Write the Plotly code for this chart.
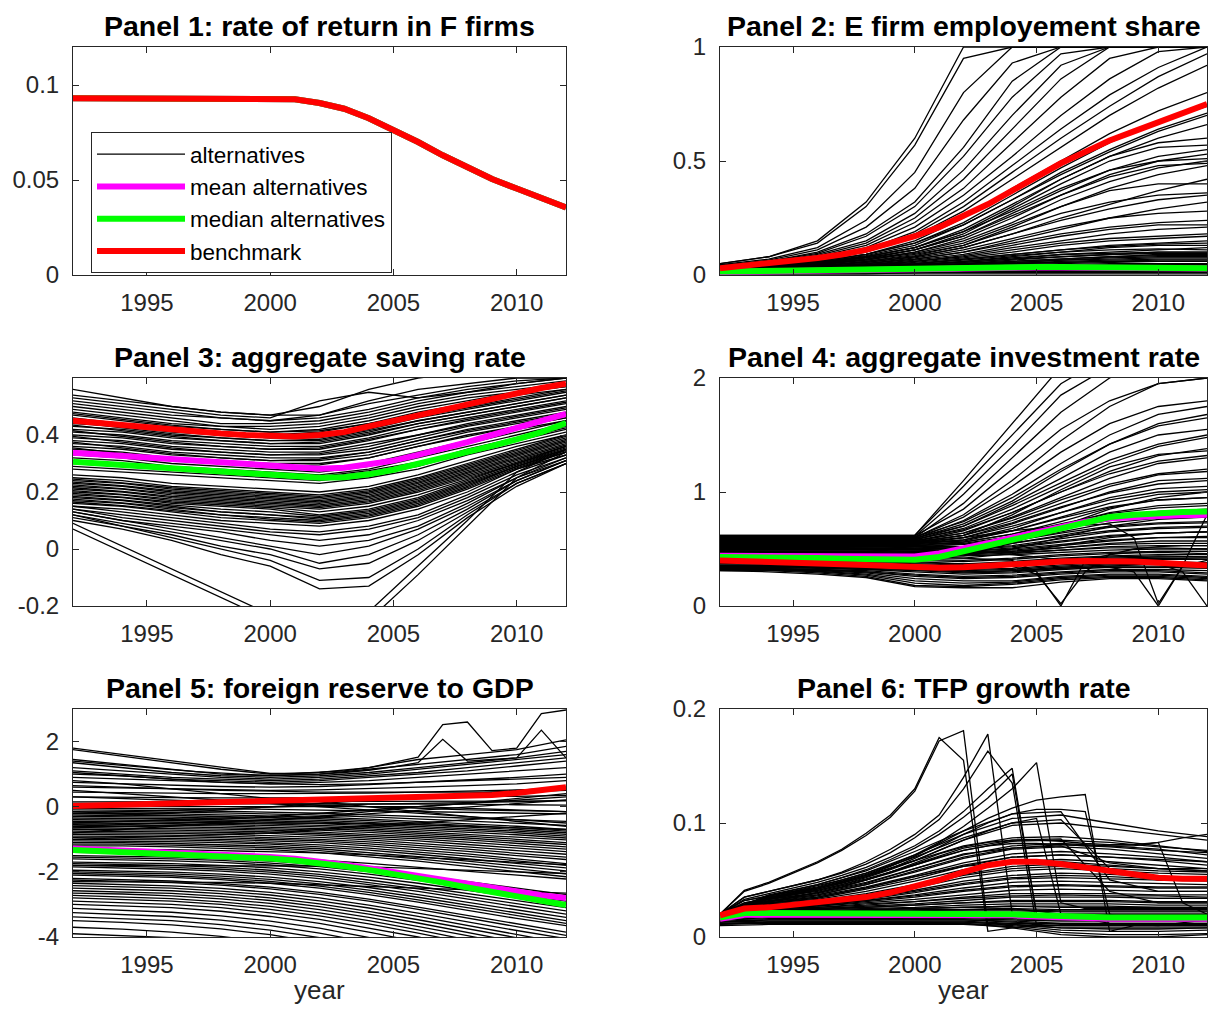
import plotly.graph_objects as go

FONT = "Liberation Sans, Arial, Helvetica, sans-serif"
PAGE_W, PAGE_H = 1216, 1017
OFF = 8                                   # default body margin of the html page
W, H = PAGE_W - 2 * OFF, PAGE_H - 2 * OFF  # figure fits in the window without scrollbars

YEARS = list(range(1992, 2013))          # yearly series
YEARS_ALT = list(range(1992, 2013, 2))   # alternatives, read every other year

TITLES = ["Panel 1: rate of return in F firms", "Panel 2: E firm employement share",
          "Panel 3: aggregate saving rate", "Panel 4: aggregate investment rate",
          "Panel 5: foreign reserve to GDP", "Panel 6: TFP growth rate"]
X_TICKS = [1995, 2000, 2005, 2010]
Y_TICKS = [[0, 0.05, 0.1], [0, 0.5, 1], [-0.2, 0, 0.2, 0.4], [0, 1, 2], [-4, -2, 0, 2], [0, 0.1, 0.2]]
Y_TICKTEXT = [["0", "0.05", "0.1"], ["0", "0.5", "1"], ["-0.2", "0", "0.2", "0.4"],
              ["0", "1", "2"], ["-4", "-2", "0", "2"], ["0", "0.1", "0.2"]]
Y_RANGES = [[0, 0.12], [0, 1], [-0.2, 0.6], [0, 2], [-4, 3], [0, 0.2]]
LEGEND_NAMES = ["alternatives", "mean alternatives", "median alternatives", "benchmark"]

# ---------------- Panel 1 ----------------
P1_BENCH = [.093, .093, .093, .093, .093, .093, .093, .093, .093, .0925, .0905, .0875, .0825,
            .0765, .070, .063, .0565, .0505, .0455, .0405, .0355]
P1_MEAN = P1_BENCH
P1_MEDIAN = P1_BENCH
P1_ALT = [[.093, .093, .093, .093, .093, .0905, .0825, .070, .0565, .0455, .0355]]
P1_ALT_Y = []

# ---------------- Panel 2 ----------------
P2_BENCH = [.03, .04, .05, .06, .075, .09, .11, .14, .17, .21, .26, .31, .37, .43, .49, .54,
            .59, .63, .67, .71, .75]
P2_MEAN = [.013, .015, .017, .019, .021, .023, .025, .027, .029, .030, .031, .032, .033, .033,
           .033, .032, .032, .031, .030, .029, .028]
P2_MEDIAN = [.015, .017, .019, .021, .023, .025, .027, .029, .031, .032, .033, .034, .035, .035,
             .035, .034, .034, .033, .032, .031, .030]
P2_ALT = [
    [.05, .08, .15, .32, .60, 1, 1, 1, 1, 1, 1],
    [.05, .08, .14, .30, .57, .95, 1, 1, 1, 1, 1],
    [.045, .07, .12, .24, .45, .80, 1, 1, 1, 1, 1],
    [.04, .065, .11, .21, .38, .68, .93, 1, 1, 1, 1],
    [.04, .06, .10, .18, .32, .56, .85, 1, 1, 1, 1],
    [.04, .06, .095, .17, .30, .52, .78, .97, 1, 1, 1],
    [.04, .055, .09, .15, .27, .46, .70, .92, 1, 1, 1],
    [.035, .055, .085, .14, .25, .42, .64, .86, 1, 1, 1],
    [.035, .05, .08, .13, .23, .38, .58, .78, .95, 1, 1],
    [.035, .05, .075, .12, .21, .35, .52, .70, .86, .98, 1],
    [.035, .05, .07, .11, .19, .32, .48, .64, .79, .91, 1],
    [.03, .045, .07, .11, .18, .30, .45, .60, .74, .87, .97],
    [.03, .045, .065, .10, .17, .28, .42, .56, .70, .82, .92],
    [.03, .04, .06, .09, .15, .25, .38, .50, .62, .72, .80],
    [.03, .04, .06, .09, .14, .23, .35, .47, .58, .67, .74],
    [.03, .04, .055, .085, .13, .22, .33, .44, .54, .63, .70],
    [.03, .04, .055, .08, .12, .20, .31, .42, .52, .60, .66],
    [.025, .035, .05, .08, .12, .19, .30, .42, .52, .58, .60],
    [.025, .035, .05, .075, .11, .18, .29, .40, .50, .56, .57],
    [.025, .035, .05, .07, .11, .17, .27, .37, .46, .52, .55],
    [.025, .035, .045, .07, .10, .16, .25, .35, .44, .50, .53],
    [.025, .03, .045, .065, .10, .15, .23, .33, .41, .47, .50],
    [.025, .03, .045, .065, .095, .14, .22, .30, .37, .40, .40],
    [.025, .03, .04, .06, .09, .13, .21, .30, .38, .44, .48],
    [.02, .03, .04, .06, .085, .13, .20, .27, .32, .35, .36],
    [.02, .03, .04, .055, .08, .12, .18, .24, .29, .33, .35],
    [.02, .03, .04, .055, .08, .12, .18, .25, .31, .37, .42],
    [.02, .025, .035, .05, .075, .11, .16, .21, .25, .27, .28],
    [.02, .025, .035, .05, .07, .10, .15, .20, .25, .29, .32],
    [.02, .025, .035, .05, .07, .10, .14, .18, .21, .23, .24],
    [.02, .025, .035, .045, .065, .09, .13, .17, .20, .22, .22],
    [.02, .025, .03, .045, .06, .085, .12, .15, .18, .20, .21],
    [.02, .025, .03, .04, .06, .08, .11, .14, .16, .17, .18],
    [.02, .025, .03, .04, .055, .075, .10, .13, .15, .16, .17],
    [.02, .025, .03, .04, .05, .07, .09, .11, .13, .14, .15],
    [.02, .02, .03, .035, .045, .06, .08, .10, .12, .13, .13],
    [.02, .02, .025, .035, .045, .055, .07, .09, .10, .11, .12],
    [.015, .02, .025, .03, .04, .05, .065, .08, .09, .10, .10],
    [.015, .02, .025, .03, .04, .05, .06, .07, .08, .09, .09],
    [.015, .02, .025, .03, .035, .045, .055, .065, .075, .08, .08],
    [.015, .02, .02, .025, .035, .04, .05, .06, .065, .07, .07],
    [.015, .015, .02, .025, .03, .035, .045, .05, .055, .06, .06],
    [.01, .015, .02, .02, .025, .03, .04, .045, .05, .05, .05],
    [.01, .015, .015, .02, .025, .03, .035, .04, .04, .04, .04],
    [.01, .01, .015, .02, .02, .025, .03, .03, .03, .03, .03],
    [.01, .01, .01, .015, .015, .02, .02, .02, .02, .02, .02],
    [.005, .01, .01, .01, .01, .015, .015, .015, .015, .015, .015],
    [.005, .005, .005, .005, .01, .01, .01, .01, .01, .01, .01],
    [.005, .005, .005, .005, .005, .005, .005, .005, .005, .005, .005],
    [.01, .015, .02, .025, .03, .04, .05, .055, .06, .065, .065],
    [.02, .025, .03, .04, .05, .065, .085, .10, .11, .115, .11],
    [.015, .02, .025, .035, .045, .06, .075, .09, .095, .10, .10],
    [.01, .015, .02, .03, .04, .05, .06, .07, .08, .085, .085],
    [.02, .025, .03, .035, .045, .055, .07, .08, .09, .095, .095],
    [.015, .02, .025, .03, .035, .045, .05, .055, .06, .06, .06],
    [.01, .01, .015, .015, .02, .02, .025, .025, .025, .025, .025],
    [.01, .015, .015, .02, .025, .035, .04, .045, .045, .045, .045],
    [.015, .02, .025, .03, .04, .045, .055, .065, .07, .075, .075],
    [.02, .025, .03, .04, .05, .07, .09, .11, .125, .135, .14],
    [.03, .04, .055, .08, .12, .19, .28, .38, .46, .50, .51],
    [.025, .035, .05, .075, .11, .17, .26, .35, .43, .48, .49],
    [.03, .045, .06, .09, .14, .22, .33, .45, .55, .64, .71],
]
P2_ALT_Y = []

# ---------------- Panel 3 ----------------
P3_BENCH = [.45, .442, .435, .428, .42, .413, .405, .40, .396, .395, .40, .41, .43, .45, .47,
            .49, .51, .53, .55, .565, .58]
P3_MEAN = [.338, .332, .326, .320, .314, .308, .302, .296, .290, .285, .282, .285, .295, .31,
           .33, .35, .375, .40, .425, .45, .474]
P3_MEDIAN = [.306, .300, .294, .288, .282, .276, .270, .264, .258, .253, .250, .252, .262, .278,
             .298, .318, .340, .362, .385, .41, .442]
P3_ALT = [
    [.56, .53, .50, .48, .47, .47, .52, .56, .58, .60, .60],
    [.54, .52, .50, .48, .47, .50, .56, .60, .62, .62, .62],
    [.53, .51, .49, .47, .46, .52, .55, .53, .55, .58, .60],
    [.52, .50, .48, .46, .45, .47, .51, .54, .57, .59, .60],
    [.51, .49, .47, .46, .45, .46, .49, .53, .56, .58, .60],
    [.50, .48, .46, .44, .44, .45, .48, .52, .55, .57, .59],
    [.49, .47, .45, .43, .43, .44, .47, .51, .54, .56, .58],
    [.48, .46, .44, .43, .42, .43, .46, .50, .53, .55, .57],
    [.47, .45, .43, .42, .41, .42, .45, .49, .52, .55, .57],
    [.46, .44, .42, .41, .40, .41, .44, .47, .50, .53, .56],
    [.44, .43, .41, .40, .39, .39, .42, .46, .49, .52, .55],
    [.43, .42, .40, .39, .38, .38, .41, .45, .48, .51, .54],
    [.42, .41, .39, .38, .37, .37, .40, .44, .47, .50, .53],
    [.41, .40, .38, .37, .36, .36, .39, .43, .46, .49, .52],
    [.40, .39, .37, .36, .35, .35, .38, .42, .45, .48, .51],
    [.39, .38, .36, .35, .34, .34, .37, .40, .44, .47, .50],
    [.38, .37, .35, .34, .33, .33, .35, .39, .43, .46, .49],
    [.37, .36, .34, .33, .32, .32, .34, .38, .42, .45, .48],
    [.36, .35, .33, .32, .31, .31, .33, .37, .41, .44, .47],
    [.35, .34, .32, .31, .30, .30, .32, .36, .40, .43, .46],
    [.33, .32, .30, .29, .28, .27, .29, .33, .37, .41, .45],
    [.32, .31, .29, .28, .27, .26, .28, .32, .36, .40, .44],
    [.30, .29, .28, .27, .26, .25, .27, .30, .35, .39, .43],
    [.29, .28, .27, .26, .25, .24, .26, .29, .34, .38, .42],
    [.28, .27, .26, .25, .24, .23, .25, .28, .33, .37, .41],
    [.25, .24, .22, .21, .20, .19, .21, .25, .30, .35, .40],
    [.24, .23, .21, .20, .19, .18, .20, .24, .29, .34, .39],
    [.23, .22, .20, .19, .18, .17, .19, .23, .28, .33, .38],
    [.22, .21, .19, .18, .17, .16, .18, .22, .27, .32, .37],
    [.21, .20, .18, .17, .16, .15, .17, .21, .26, .31, .36],
    [.20, .19, .17, .16, .15, .14, .16, .20, .25, .30, .36],
    [.19, .18, .16, .15, .14, .12, .14, .18, .24, .30, .35],
    [.18, .17, .15, .13, .12, .11, .13, .17, .23, .29, .35],
    [.17, .16, .14, .12, .11, .10, .12, .16, .22, .29, .34],
    [.16, .15, .13, .11, .10, .09, .11, .15, .21, .28, .34],
    [.15, .14, .12, .10, .09, .08, .10, .14, .20, .28, .33],
    [.15, .13, .11, .09, .07, .06, .08, .12, .19, .27, .33],
    [.14, .12, .10, .08, .06, .05, .07, .11, .18, .26, .32],
    [.14, .11, .09, .07, .05, .03, .05, .10, .17, .25, .32],
    [.13, .10, .08, .06, .03, .01, .03, .08, .16, .25, .31],
    [.13, .10, .07, .04, .01, -.02, .01, .07, .15, .24, .31],
    [.12, .09, .06, .03, 0, -.05, -.02, .05, .14, .24, .31],
    [.12, .08, .05, .01, -.02, -.07, -.05, .03, .13, .23, .30],
    [.11, .08, .04, 0, -.04, -.11, -.10, 0, .12, .23, .30],
    [.10, .07, .03, -.02, -.06, -.14, -.13, -.02, .11, .22, .30],
    [.09, .01, -.07, -.15, -.23, -.30, -.22, -.06, .10, .27, .35],
    [.07, -.01, -.09, -.17, -.25, -.32, -.25, -.09, .08, .25, .34],
    [.26, .25, .23, .22, .21, .20, .22, .26, .31, .36, .40],
    [.34, .33, .31, .30, .29, .28, .30, .34, .38, .42, .45],
    [.475, .455, .435, .42, .41, .415, .44, .48, .51, .54, .56],
    [.455, .435, .415, .40, .39, .40, .43, .465, .495, .525, .555],
    [.445, .425, .405, .39, .38, .385, .415, .45, .48, .51, .54],
    [.435, .415, .395, .38, .37, .375, .405, .44, .47, .50, .53],
    [.415, .395, .375, .36, .35, .355, .385, .42, .455, .485, .515],
    [.395, .375, .355, .34, .33, .335, .36, .40, .435, .465, .495],
    [.375, .355, .335, .32, .31, .315, .34, .38, .415, .445, .475],
    [.355, .335, .315, .30, .29, .295, .32, .36, .395, .43, .46],
    [.245, .232, .215, .205, .195, .185, .205, .245, .295, .345, .395],
    [.235, .222, .205, .195, .185, .175, .195, .235, .285, .335, .385],
    [.225, .212, .195, .185, .175, .165, .185, .225, .275, .325, .375],
    [.215, .202, .185, .175, .165, .155, .175, .215, .265, .315, .365],
    [.205, .192, .175, .165, .155, .145, .165, .205, .255, .305, .36],
    [.195, .182, .165, .155, .145, .13, .15, .19, .245, .30, .355],
    [.185, .172, .155, .14, .13, .115, .135, .175, .235, .295, .35],
    [.175, .162, .145, .13, .12, .105, .125, .165, .225, .29, .345],
    [.165, .152, .135, .12, .105, .095, .115, .155, .215, .285, .34],
    [.31, .30, .285, .275, .265, .255, .275, .305, .345, .385, .425],
]
P3_ALT_Y = []

# ---------------- Panel 4 ----------------
P4_BENCH = [.40, .395, .39, .385, .38, .37, .36, .35, .34, .335, .34, .355, .37, .385, .39,
            .395, .395, .39, .38, .365, .355]
P4_MEAN = [.44, .44, .44, .44, .44, .44, .44, .435, .435, .46, .50, .55, .60, .65, .70, .74,
           .77, .785, .79, .795, .80]
P4_MEDIAN = [.43, .43, .425, .42, .42, .415, .41, .405, .405, .43, .48, .53, .59, .64, .69, .74,
             .78, .80, .815, .825, .83]
P4_ALT = [
    [.62, .62, .62, .62, .62, 1.1, 1.6, 2.1, 2.3, 2.3, 2.3],
    [.62, .62, .62, .62, .62, 1.05, 1.5, 1.95, 2.2, 2.3, 2.3],
    [.61, .61, .61, .61, .61, .98, 1.4, 1.85, 2.1, 2.2, 2.2],
    [.60, .60, .60, .60, .60, .90, 1.3, 1.7, 2.0, 2.2, 2.2],
    [.60, .60, .60, .60, .60, .80, 1.1, 1.45, 1.75, 1.95, 2.0],
    [.60, .60, .60, .60, .60, .78, 1.05, 1.35, 1.6, 1.75, 1.80],
    [.59, .59, .59, .59, .59, .75, .98, 1.25, 1.5, 1.68, 1.75],
    [.59, .59, .59, .59, .59, .72, .92, 1.18, 1.42, 1.60, 1.68],
    [.58, .58, .58, .58, .58, .70, .90, 1.12, 1.35, 1.50, 1.55],
    [.58, .58, .58, .58, .58, .68, .85, 1.05, 1.25, 1.40, 1.48],
    [.57, .57, .57, .57, .57, .66, .82, 1.00, 1.18, 1.32, 1.38],
    [.57, .57, .57, .57, .57, .64, .78, .95, 1.12, 1.25, 1.30],
    [.56, .56, .56, .56, .56, .62, .75, .90, 1.05, 1.15, 1.18],
    [.56, .56, .56, .56, .56, .60, .72, .86, 1.00, 1.10, 1.12],
    [.55, .55, .55, .55, .55, .58, .68, .82, .95, 1.03, 1.05],
    [.55, .55, .55, .55, .55, .57, .66, .78, .90, .98, 1.00],
    [.54, .54, .54, .54, .54, .56, .63, .74, .86, .93, .95],
    [.54, .54, .54, .54, .54, .55, .61, .71, .82, .88, .90],
    [.53, .53, .53, .53, .53, .54, .59, .68, .77, .83, .85],
    [.53, .53, .53, .53, .52, .52, .57, .65, .73, .77, .78],
    [.52, .52, .52, .52, .51, .51, .55, .62, .69, .72, .73],
    [.51, .51, .51, .51, .50, .50, .53, .59, .65, .68, .69],
    [.50, .50, .50, .50, .49, .48, .51, .56, .61, .64, .65],
    [.49, .49, .49, .49, .48, .47, .49, .53, .57, .60, .61],
    [.48, .48, .48, .48, .47, .46, .48, .51, .55, .57, .57],
    [.47, .47, .47, .47, .46, .45, .46, .49, .52, .53, .53],
    [.46, .46, .46, .46, .45, .44, .45, .47, .49, .50, .50],
    [.42, .42, .42, .42, .41, .40, .42, .45, .47, .48, .48],
    [.40, .40, .40, .39, .38, .37, .39, .42, .44, .45, .45],
    [.38, .38, .38, .37, .36, .35, .37, .40, .42, .43, .43],
    [.37, .37, .36, .35, .34, .33, .35, .38, .40, .41, .41],
    [.36, .36, .35, .34, .33, .32, .33, .36, .38, .39, .38],
    [.35, .35, .34, .33, .32, .30, .31, .34, .36, .37, .36],
    [.34, .34, .33, .32, .30, .28, .29, .32, .34, .34, .33],
    [.33, .33, .32, .31, .28, .26, .27, .30, .32, .32, .31],
    [.33, .33, .32, .30, .26, .24, .25, .28, .30, .30, .28],
    [.32, .32, .31, .29, .24, .22, .22, .26, .28, .28, .26],
    [.32, .32, .30, .27, .20, .18, .20, .24, .26, .26, .24],
    [.31, .31, .29, .26, .18, .17, .19, .23, .25, .25, .23],
    [.31, .30, .28, .25, .17, .16, .16, .21, .24, .24, .22],
    [.44, .44, .44, .44, .43, .45, .55, .70, .85, .95, 1.0],
    [.57, .57, .57, .57, .56, .62, .80, 1.02, 1.22, 1.33, 1.36],
    [.615, .615, .615, .615, .615, .85, 1.2, 1.55, 1.8, 1.95, 2.0],
    [.605, .605, .605, .605, .605, .74, .95, 1.2, 1.42, 1.58, 1.65],
    [.595, .595, .595, .595, .595, .70, .88, 1.08, 1.28, 1.42, 1.50],
    [.585, .585, .585, .585, .585, .67, .82, 1.0, 1.16, 1.27, 1.32],
    [.575, .575, .575, .575, .575, .64, .77, .93, 1.07, 1.16, 1.20],
    [.565, .565, .565, .565, .565, .62, .73, .87, .99, 1.07, 1.10],
    [.555, .555, .555, .555, .555, .60, .70, .82, .93, 1.00, 1.02],
    [.545, .545, .545, .545, .545, .58, .66, .77, .87, .93, .95],
    [.535, .535, .535, .535, .53, .56, .63, .72, .81, .86, .88],
    [.525, .525, .525, .525, .52, .54, .60, .68, .75, .79, .80],
    [.515, .515, .515, .515, .51, .52, .57, .64, .70, .73, .74],
    [.505, .505, .505, .505, .50, .51, .55, .61, .66, .69, .70],
    [.495, .495, .495, .495, .49, .49, .52, .57, .62, .64, .65],
    [.485, .485, .485, .485, .48, .48, .50, .54, .58, .60, .60],
    [.475, .475, .475, .475, .47, .47, .48, .51, .54, .55, .55],
    [.465, .465, .465, .465, .46, .46, .47, .49, .51, .51, .50],
    [.41, .41, .41, .41, .40, .39, .41, .44, .46, .47, .46],
    [.39, .39, .39, .38, .37, .36, .38, .41, .43, .44, .43],
    [.375, .375, .37, .36, .35, .34, .36, .39, .41, .42, .41],
    [.355, .355, .345, .335, .32, .31, .32, .35, .37, .38, .37],
    [.345, .345, .335, .325, .31, .29, .30, .33, .35, .35, .34],
    [.325, .325, .315, .30, .27, .25, .26, .29, .31, .31, .29],
    [.315, .315, .305, .28, .22, .20, .21, .25, .27, .27, .25],
    [.44, .44, .44, .44, .43, .44, .50, .60, .70, .76, .78],
    [.43, .43, .43, .43, .42, .42, .46, .53, .60, .64, .65],
]
P4_ALT_Y = [
    [.45, .45, .45, .45, .45, .45, .45, .45, .44, .43, .42, .41, .40, .30, 0, .40, .45, .47, .48, .48, .48],
    [.40, .40, .40, .40, .40, .40, .40, .40, .39, .38, .37, .36, .35, .28, .02, .30, .45, .50, .52, .53, .53],
    [.50, .50, .50, .50, .50, .50, .50, .50, .50, .49, .48, .47, .45, .43, .40, .37, .34, .30, 0, .35, .40],
    [.35, .35, .35, .35, .35, .35, .34, .33, .32, .31, .30, .30, .31, .32, .33, .34, .35, .36, .37, .30, 0],
    [.55, .55, .55, .55, .55, .55, .55, .55, .55, .57, .60, .63, .66, .68, .70, .71, .72, .60, .02, .35, .80],
]

# ---------------- Panel 5 ----------------
P5_BENCH = [.02, .04, .06, .08, .10, .12, .14, .16, .18, .19, .21, .22, .24, .25, .27, .29,
            .32, .36, .42, .50, .60]
P5_MEAN = [-1.28, -1.31, -1.34, -1.37, -1.40, -1.43, -1.46, -1.50, -1.54, -1.60, -1.68, -1.78,
           -1.89, -2.01, -2.13, -2.26, -2.39, -2.51, -2.62, -2.72, -2.80]
P5_MEDIAN = [-1.33, -1.36, -1.39, -1.42, -1.45, -1.48, -1.51, -1.55, -1.59, -1.65, -1.73, -1.83,
             -1.94, -2.06, -2.19, -2.33, -2.48, -2.62, -2.76, -2.90, -3.02]
P5_ALT = [
    [1.75, 1.55, 1.35, 1.15, 1.0, 1.05, 1.2, 1.45, 1.6, 1.75, 2.05],
    [1.45, 1.3, 1.15, 1.0, .95, 1.0, 1.15, 1.3, 1.45, 1.6, 1.85],
    [1.35, 1.2, 1.05, .95, .9, .95, 1.05, 1.2, 1.35, 1.5, 1.7],
    [1.2, 1.1, 1.0, .9, .85, .9, 1.0, 1.15, 1.3, 1.45, 1.6],
    [1.1, 1.0, .9, .85, .8, .85, .95, 1.05, 1.2, 1.35, 1.5],
    [1.0, .95, .85, .8, .75, .8, .9, 1.0, 1.1, 1.25, 1.4],
    [.9, .85, .8, .75, .7, .75, .8, .9, 1.0, 1.1, 1.2],
    [.75, .7, .65, .62, .6, .62, .68, .75, .82, .9, 1.0],
    [.6, .58, .55, .52, .5, .52, .55, .6, .65, .7, .8],
    [.45, .43, .42, .4, .4, .4, .42, .45, .48, .5, .55],
    [.3, .3, .28, .27, .27, .27, .28, .3, .3, .32, .35],
    [.15, .15, .15, .15, .15, .15, .15, .16, .16, .17, .18],
    [0, 0, 0, 0, 0, 0, 0, 0, -.05, -.1, -.15],
    [-.1, -.1, -.12, -.14, -.16, -.2, -.25, -.3, -.35, -.4, -.45],
    [-.2, -.2, -.22, -.25, -.28, -.32, -.38, -.45, -.52, -.6, -.7],
    [-.3, -.3, -.32, -.35, -.38, -.42, -.48, -.55, -.62, -.7, -.8],
    [-.4, -.4, -.42, -.44, -.47, -.52, -.58, -.65, -.72, -.8, -.9],
    [-.5, -.5, -.52, -.54, -.57, -.62, -.68, -.76, -.84, -.93, -1.02],
    [-.6, -.6, -.62, -.64, -.67, -.72, -.79, -.87, -.96, -1.06, -1.16],
    [-.7, -.7, -.72, -.74, -.77, -.83, -.9, -.99, -1.09, -1.2, -1.3],
    [-.8, -.8, -.82, -.84, -.88, -.94, -1.02, -1.12, -1.23, -1.35, -1.46],
    [-.9, -.9, -.92, -.95, -.99, -1.05, -1.14, -1.25, -1.37, -1.5, -1.62],
    [-1.0, -1.0, -1.02, -1.05, -1.1, -1.17, -1.27, -1.39, -1.52, -1.66, -1.8],
    [-1.1, -1.1, -1.13, -1.16, -1.21, -1.29, -1.4, -1.53, -1.67, -1.82, -1.97],
    [-1.2, -1.2, -1.23, -1.27, -1.32, -1.41, -1.53, -1.67, -1.83, -1.99, -2.15],
    [.5, .4, .3, .2, .1, 0, -.1, -.2, -.3, -.4, -.5],
    [.8, .7, .55, .4, .25, .15, 0, -.15, -.3, -.45, -.6],
    [-.5, -.45, -.4, -.35, -.3, -.2, -.1, 0, .1, .2, .3],
    [-.8, -.7, -.6, -.5, -.4, -.3, -.15, 0, .1, .25, .4],
    [-.3, -.25, -.2, -.1, 0, .1, .2, .3, .4, .5, .6],
    [-.2, -.15, -.1, -.05, 0, .05, .08, .1, .12, .15, .2],
    [-.65, -.6, -.55, -.52, -.5, -.5, -.52, -.55, -.6, -.65, -.7],
    [-1.5, -1.52, -1.55, -1.6, -1.67, -1.78, -1.92, -2.1, -2.3, -2.5, -2.7],
    [-1.6, -1.62, -1.66, -1.71, -1.79, -1.91, -2.07, -2.26, -2.47, -2.68, -2.9],
    [-1.75, -1.77, -1.8, -1.86, -1.95, -2.08, -2.25, -2.45, -2.67, -2.9, -3.1],
    [-1.85, -1.88, -1.92, -1.98, -2.07, -2.21, -2.39, -2.6, -2.83, -3.06, -3.3],
    [-2.0, -2.02, -2.06, -2.13, -2.23, -2.37, -2.56, -2.78, -3.02, -3.26, -3.5],
    [-2.1, -2.13, -2.17, -2.24, -2.35, -2.5, -2.7, -2.93, -3.18, -3.43, -3.65],
    [-2.2, -2.23, -2.28, -2.36, -2.47, -2.63, -2.84, -3.08, -3.34, -3.6, -3.85],
    [-2.35, -2.38, -2.43, -2.51, -2.63, -2.8, -3.02, -3.27, -3.54, -3.8, -4.05],
    [-2.5, -2.53, -2.58, -2.67, -2.8, -2.98, -3.21, -3.47, -3.75, -4.02, -4.3],
    [-2.65, -2.68, -2.74, -2.83, -2.97, -3.16, -3.4, -3.67, -3.96, -4.25, -4.5],
    [-2.8, -2.84, -2.9, -3.0, -3.15, -3.35, -3.6, -3.88, -4.18, -4.5, -4.8],
    [-3.0, -3.04, -3.1, -3.21, -3.37, -3.58, -3.85, -4.15, -4.45, -4.8, -5.1],
    [-3.25, -3.3, -3.37, -3.48, -3.65, -3.88, -4.15, -4.45, -4.8, -5.1, -5.4],
    [-3.5, -3.55, -3.63, -3.75, -3.93, -4.17, -4.45, -4.8, -5.1, -5.4, -5.7],
    [-3.7, -3.76, -3.85, -3.98, -4.17, -4.4, -4.7, -5.0, -5.3, -5.6, -5.9],
    [-1.4, -1.42, -1.45, -1.5, -1.56, -1.64, -1.74, -1.86, -1.98, -2.1, -2.22],
    [-1.3, -1.3, -1.32, -1.35, -1.38, -1.42, -1.48, -1.55, -1.62, -1.7, -1.78],
    [-.95, -.95, -.97, -1.0, -1.04, -1.1, -1.2, -1.32, -1.45, -1.6, -1.75],
    [.1, .1, .1, .1, .1, .1, .1, .1, .08, .06, .05],
    [-.05, -.05, -.06, -.07, -.08, -.1, -.12, -.15, -.18, -.2, -.22],
    [-.15, -.15, -.17, -.19, -.22, -.26, -.31, -.37, -.43, -.5, -.57],
    [-.25, -.25, -.27, -.3, -.33, -.37, -.43, -.5, -.57, -.65, -.75],
    [-.35, -.35, -.37, -.4, -.43, -.47, -.53, -.6, -.67, -.75, -.85],
    [-.45, -.45, -.47, -.49, -.52, -.57, -.63, -.7, -.78, -.86, -.96],
    [-.55, -.55, -.57, -.59, -.62, -.67, -.73, -.81, -.9, -1.0, -1.1],
    [-.65, -.65, -.67, -.69, -.72, -.78, -.85, -.93, -1.02, -1.13, -1.23],
    [-.75, -.75, -.77, -.79, -.82, -.88, -.96, -1.05, -1.16, -1.28, -1.38],
    [-.85, -.85, -.87, -.9, -.94, -1.0, -1.08, -1.18, -1.3, -1.43, -1.55],
    [-1.05, -1.05, -1.07, -1.1, -1.15, -1.23, -1.33, -1.46, -1.6, -1.74, -1.88],
    [-1.15, -1.15, -1.18, -1.21, -1.26, -1.35, -1.47, -1.6, -1.75, -1.9, -2.06],
    [-.6, -.55, -.5, -.45, -.4, -.32, -.22, -.1, 0, .1, .2],
    [-1.0, -.95, -.9, -.85, -.8, -.7, -.6, -.5, -.4, -.3, -.2],
    [.3, .25, .2, .15, .1, .05, 0, -.05, -.1, -.12, -.15],
    [.65, .6, .55, .5, .48, .45, .45, .45, .45, .45, .5],
    [1.05, .95, .85, .75, .7, .68, .7, .75, .8, .85, .9],
    [-1.55, -1.57, -1.6, -1.65, -1.73, -1.84, -1.99, -2.18, -2.38, -2.59, -2.8],
    [-1.7, -1.72, -1.75, -1.8, -1.88, -2.0, -2.16, -2.35, -2.57, -2.79, -3.0],
    [-1.8, -1.83, -1.86, -1.92, -2.01, -2.14, -2.32, -2.52, -2.75, -2.98, -3.2],
    [-1.95, -1.97, -2.01, -2.07, -2.16, -2.3, -2.48, -2.7, -2.94, -3.18, -3.4],
    [-2.05, -2.08, -2.12, -2.19, -2.29, -2.44, -2.63, -2.86, -3.1, -3.35, -3.58],
    [-2.25, -2.28, -2.33, -2.41, -2.52, -2.69, -2.9, -3.15, -3.42, -3.68, -3.95],
    [-2.42, -2.45, -2.5, -2.59, -2.71, -2.89, -3.11, -3.37, -3.65, -3.93, -4.2],
    [-2.58, -2.61, -2.66, -2.75, -2.88, -3.07, -3.3, -3.57, -3.86, -4.15, -4.4],
    [-2.72, -2.76, -2.82, -2.92, -3.06, -3.26, -3.5, -3.78, -4.08, -4.4, -4.7],
    [-2.9, -2.94, -3.0, -3.1, -3.26, -3.46, -3.72, -4.0, -4.3, -4.65, -4.95],
    [-3.12, -3.17, -3.24, -3.35, -3.51, -3.73, -4.0, -4.3, -4.6, -4.95, -5.25],
    [-3.38, -3.43, -3.5, -3.62, -3.79, -4.02, -4.3, -4.6, -4.95, -5.25, -5.55],
    [-3.9, -3.95, -4.02, -4.15, -4.35, -4.6, -4.9, -5.2, -5.5, -5.8, -6.1],
    [-1.8, -1.8, -1.8, -1.8, -1.8, -1.82, -1.85, -1.9, -1.95, -2.0, -2.05],
    [-2.3, -2.3, -2.3, -2.32, -2.35, -2.4, -2.45, -2.5, -2.55, -2.6, -2.65],
]
P5_ALT_Y = [
    [1.8, 1.7, 1.6, 1.5, 1.4, 1.3, 1.2, 1.1, 1.02, 1.02, 1.05, 1.1, 1.2, 1.35, 1.52, 2.52, 2.6, 1.72, 1.8, 2.86, 2.97],
    [1.4, 1.33, 1.26, 1.2, 1.14, 1.08, 1.03, .99, .96, .97, 1.0, 1.05, 1.12, 1.22, 1.35, 2.07, 1.4, 1.45, 1.5, 2.35, 1.5],
]

# ---------------- Panel 6 ----------------
P6_BENCH = [.019, .025, .026, .028, .030, .032, .035, .039, .044, .050, .057, .063, .066, .066,
            .064, .061, .057, .054, .052, .051, .051]
P6_MEAN = [.016, .0195, .0195, .0195, .0195, .0195, .0195, .0195, .0195, .0195, .0195, .0195,
           .019, .018, .017, .017, .016, .016, .016, .016, .016]
P6_MEDIAN = [.017, .021, .021, .021, .021, .021, .021, .021, .021, .021, .021, .021, .020, .019,
             .018, .018, .017, .017, .017, .017, .017]
P6_ALT = [
    [.02, .036, .043, .054, .067, .08, .087, .088, .085, .08, .075],
    [.02, .034, .041, .051, .063, .076, .084, .085, .083, .079, .076],
    [.02, .033, .039, .048, .06, .072, .08, .082, .08, .077, .072],
    [.02, .032, .037, .046, .057, .069, .077, .079, .077, .073, .069],
    [.02, .031, .036, .044, .054, .065, .073, .075, .073, .07, .066],
    [.02, .03, .034, .042, .051, .062, .07, .072, .07, .067, .063],
    [.02, .03, .033, .04, .049, .059, .066, .068, .066, .063, .06],
    [.02, .029, .032, .038, .046, .055, .062, .064, .062, .06, .058],
    [.02, .028, .031, .036, .043, .052, .058, .06, .058, .056, .055],
    [.02, .028, .03, .035, .041, .049, .054, .056, .055, .053, .052],
    [.02, .027, .029, .033, .039, .046, .051, .052, .051, .05, .049],
    [.02, .026, .028, .032, .037, .043, .048, .049, .048, .047, .046],
    [.02, .026, .027, .031, .035, .04, .044, .045, .044, .043, .043],
    [.02, .025, .027, .03, .033, .037, .041, .042, .041, .04, .04],
    [.02, .025, .026, .029, .031, .035, .038, .038, .038, .037, .037],
    [.02, .024, .025, .027, .029, .032, .035, .035, .035, .034, .034],
    [.02, .024, .025, .026, .028, .03, .032, .032, .032, .031, .031],
    [.02, .023, .024, .025, .026, .028, .029, .029, .029, .028, .028],
    [.02, .023, .023, .024, .025, .026, .027, .026, .026, .026, .026],
    [.02, .022, .023, .023, .024, .024, .025, .024, .024, .024, .024],
    [.019, .022, .022, .022, .023, .023, .023, .022, .022, .022, .022],
    [.018, .021, .021, .021, .021, .021, .021, .02, .02, .02, .02],
    [.017, .019, .019, .019, .019, .019, .019, .018, .018, .018, .018],
    [.016, .018, .018, .018, .018, .018, .017, .016, .016, .016, .016],
    [.015, .016, .016, .016, .016, .016, .015, .014, .014, .014, .014],
    [.014, .015, .015, .015, .015, .015, .014, .012, .012, .012, .012],
    [.013, .014, .014, .014, .014, .014, .012, .01, .01, .01, .01],
    [.012, .013, .013, .013, .013, .013, .011, .008, .008, .008, .008],
    [.011, .012, .012, .012, .012, .012, .01, .006, .005, .005, .006],
    [.01, .011, .011, .011, .011, .011, .009, .004, .002, .002, .003],
    [.012, .013, .013, .013, .013, .012, .008, .002, 0, 0, .002],
    [.02, .035, .042, .053, .067, .085, .098, .1, .095, .09, .085],
    [.02, .036, .044, .056, .072, .09, .104, .107, .1, .093, .088],
    [.02, .037, .046, .058, .075, .093, .108, .11, .05, .04, .04],
    [.02, .035, .043, .055, .07, .087, .1, .103, .06, .05, .05],
    [.02, .034, .04, .05, .064, .078, .085, .086, .04, .03, .03],
    [.02, .033, .038, .047, .06, .073, .078, .08, .065, .06, .06],
    [.02, .031, .035, .043, .053, .062, .066, .066, .063, .06, .058],
    [.018, .022, .023, .024, .025, .026, .025, .02, .012, .01, .015],
    [.02, .029, .031, .037, .045, .054, .06, .062, .06, .058, .057],
    [.02, .027, .03, .034, .04, .047, .052, .054, .053, .051, .05],
    [.02, .026, .028, .032, .036, .041, .045, .046, .045, .044, .044],
    [.02, .025, .026, .028, .031, .034, .036, .037, .036, .036, .035],
    [.02, .024, .024, .026, .028, .03, .031, .031, .031, .03, .03],
    [.02, .023, .023, .024, .025, .026, .027, .027, .027, .026, .026],
    [.019, .022, .022, .023, .023, .024, .024, .023, .023, .023, .023],
    [.017, .02, .02, .02, .02, .02, .02, .019, .019, .019, .019],
    [.015, .017, .017, .017, .017, .017, .016, .015, .015, .015, .015],
    [.013, .015, .015, .015, .015, .015, .013, .011, .011, .011, .011],
    [.011, .013, .013, .013, .013, .013, .011, .008, .007, .007, .008],
    [.02, .032, .037, .046, .058, .07, .078, .081, .079, .076, .074],
    [.02, .03, .035, .043, .053, .063, .07, .072, .07, .068, .066],
]
P6_ALT_Y = [
    [.02, .041, .048, .057, .066, .077, .091, .107, .13, .175, .155, .005, .008, .01, .01, .01, .01, .01, .01, .01, .01],
    [.02, .04, .047, .056, .065, .076, .089, .105, .128, .172, .181, .01, .012, .012, .012, .012, .012, .012, .012, .012, .012],
    [.02, .035, .04, .045, .05, .057, .066, .077, .09, .107, .14, .178, .02, .015, .015, .015, .015, .015, .015, .015, .015],
    [.02, .035, .04, .045, .05, .056, .064, .074, .087, .103, .13, .163, .135, .01, .01, .01, .01, .01, .01, .01, .01],
    [.02, .033, .038, .043, .048, .054, .061, .07, .08, .093, .11, .13, .148, .02, .02, .02, .02, .02, .02, .02, .02],
    [.02, .032, .036, .04, .045, .05, .056, .063, .072, .083, .097, .113, .13, .153, .03, .025, .025, .025, .025, .025, .025],
    [.02, .032, .036, .041, .046, .052, .059, .068, .078, .09, .105, .122, .143, .02, .018, .018, .018, .018, .018, .018, .018],
    [.02, .03, .034, .038, .043, .048, .054, .062, .071, .082, .093, .104, .113, .12, .123, .125, .005, .01, .01, .01, .01],
    [.02, .03, .034, .038, .042, .047, .053, .06, .069, .079, .09, .1, .108, .112, .112, .11, .02, .015, .015, .015, .015],
    [.02, .028, .031, .035, .039, .044, .05, .057, .065, .073, .079, .083, .085, .085, .084, .082, .081, .081, .083, .087, .09],
    [.02, .028, .031, .035, .039, .044, .05, .056, .063, .07, .076, .08, .082, .082, .081, .08, .08, .08, .083, .03, .02],
    [.02, .029, .033, .037, .041, .046, .052, .059, .067, .076, .085, .093, .1, .104, .02, .015, .015, .015, .015, .015, .015],
]

PANELS = [
    (P1_ALT, P1_ALT_Y, P1_MEAN, P1_MEDIAN, P1_BENCH),
    (P2_ALT, P2_ALT_Y, P2_MEAN, P2_MEDIAN, P2_BENCH),
    (P3_ALT, P3_ALT_Y, P3_MEAN, P3_MEDIAN, P3_BENCH),
    (P4_ALT, P4_ALT_Y, P4_MEAN, P4_MEDIAN, P4_BENCH),
    (P5_ALT, P5_ALT_Y, P5_MEAN, P5_MEDIAN, P5_BENCH),
    (P6_ALT, P6_ALT_Y, P6_MEAN, P6_MEDIAN, P6_BENCH),
]


def stack(series_list, years):
    xs, ys = [], []
    for s in series_list:
        for x, y in zip(years, s):
            xs.append(x)
            ys.append(y)
        xs.append(None)
        ys.append(None)
    return xs, ys


# layout geometry, in page pixels of the 1216x1017 window
COL_PX = [(73, 566), (720, 1207)]
ROW_PX = [(47, 275), (378, 606), (709, 937)]
X_DOM = [[(a - OFF) / W, (b - OFF) / W] for a, b in COL_PX]
Y_DOM = [[1 - (b - OFF) / H, 1 - (a - OFF) / H] for a, b in ROW_PX]

AX_COLOR = "#262626"
fig = go.Figure()
annotations = []
layout_axes = {}

for i, (alt, alt_y, mean, median, bench) in enumerate(PANELS):
    r, c = divmod(i, 2)
    sfx = "" if i == 0 else str(i + 1)
    xref, yref = "x" + sfx, "y" + sfx
    ax1, ay1 = stack(alt, YEARS_ALT)
    ax2, ay2 = stack(alt_y, YEARS)
    first = (i == 0)
    fig.add_trace(go.Scatter(x=ax1 + ax2, y=ay1 + ay2, mode="lines", connectgaps=False,
                             line=dict(color="black", width=1.3), name=LEGEND_NAMES[0],
                             showlegend=first, xaxis=xref, yaxis=yref, hoverinfo="skip"))
    fig.add_trace(go.Scatter(x=YEARS, y=mean, mode="lines", line=dict(color="#ff00ff", width=6),
                             name=LEGEND_NAMES[1], showlegend=first, xaxis=xref, yaxis=yref))
    fig.add_trace(go.Scatter(x=YEARS, y=median, mode="lines", line=dict(color="#00ff00", width=6),
                             name=LEGEND_NAMES[2], showlegend=first, xaxis=xref, yaxis=yref))
    fig.add_trace(go.Scatter(x=YEARS, y=bench, mode="lines", line=dict(color="#ff0000", width=6),
                             name=LEGEND_NAMES[3], showlegend=first, xaxis=xref, yaxis=yref))

    common = dict(showline=True, linecolor=AX_COLOR, linewidth=1, mirror="allticks",
                  ticks="inside", ticklen=6, tickwidth=1, tickcolor=AX_COLOR,
                  showgrid=False, zeroline=False, automargin=False,
                  tickfont=dict(family=FONT, size=24, color=AX_COLOR))
    layout_axes["xaxis" + sfx] = dict(domain=X_DOM[c], anchor=yref, range=[1992, 2012],
                                      tickmode="array", tickvals=X_TICKS,
                                      ticktext=[str(v) for v in X_TICKS],
                                      ticklabelstandoff=6, **common)
    layout_axes["yaxis" + sfx] = dict(domain=Y_DOM[r], anchor=xref, range=Y_RANGES[i],
                                      tickmode="array", tickvals=Y_TICKS[i],
                                      ticktext=Y_TICKTEXT[i], ticklabelstandoff=8, **common)
    annotations.append(dict(text="<b>" + TITLES[i] + "</b>", xref="paper", yref="paper",
                            x=sum(X_DOM[c]) / 2, y=Y_DOM[r][1], xanchor="center",
                            yanchor="bottom", yshift=3, showarrow=False,
                            font=dict(family=FONT, size=28.5, color="black")))

for c in range(2):
    annotations.append(dict(text="year", xref="paper", yref="paper", x=sum(X_DOM[c]) / 2,
                            y=1 - (990 - OFF) / H, xanchor="center", yanchor="middle",
                            showarrow=False, font=dict(family=FONT, size=26, color=AX_COLOR)))

fig.update_layout(
    template="none",
    width=W, height=H, autosize=False,
    margin=dict(l=0, r=0, t=0, b=0, pad=0, autoexpand=False),
    paper_bgcolor="white", plot_bgcolor="white",
    font=dict(family=FONT, color=AX_COLOR),
    showlegend=True,
    legend=dict(x=(91 - OFF) / W, y=1 - (132 - OFF) / H, xanchor="left", yanchor="top",
                bgcolor="white", bordercolor=AX_COLOR, borderwidth=1,
                font=dict(family=FONT, size=22.5, color="black"),
                itemwidth=88, traceorder="normal"),
    annotations=annotations,
    **layout_axes,
)

fig.write_html("out.html")
